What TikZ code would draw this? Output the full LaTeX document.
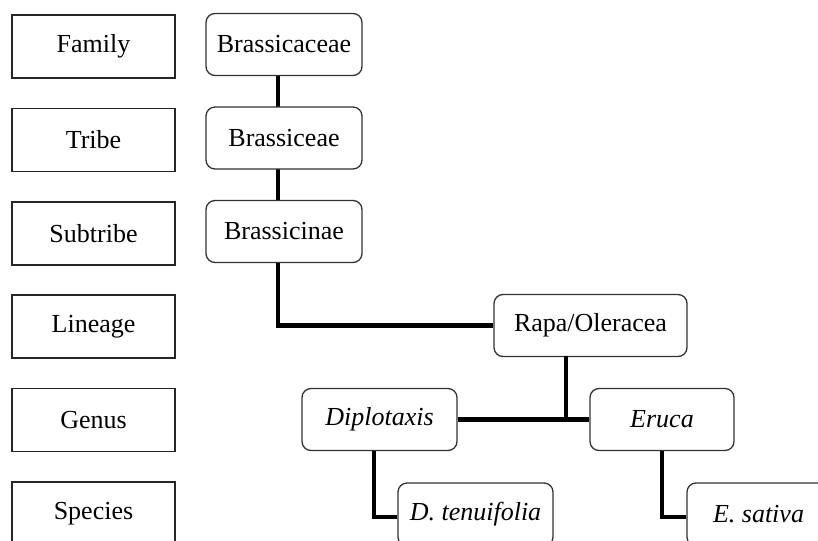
\documentclass[tikz,border=0pt]{standalone}
\usepackage{fontspec}
\setmainfont{Liberation Serif}
\tikzset{
  rankbox/.style={draw=black!85, line width=1.5pt, rectangle, inner sep=0pt,
    minimum width=163pt, minimum height=63pt, font=\fontsize{26}{30}\selectfont},
  taxbox/.style={draw=black!80, line width=1.3pt, rectangle, rounded corners=9pt, inner sep=0pt,
    minimum height=62pt, font=\fontsize{26}{30}\selectfont, fill=white},
  link/.style={line width=4.2pt, black}
}
\begin{document}
\begin{tikzpicture}[x=1pt,y=-1pt]
\useasboundingbox (0,0) rectangle (818,540);
\clip (0,0) rectangle (818,540);
% rank column
\node[rankbox] (family) at (93.5,46.5) {Family};
\node[rankbox] (tribe) at (93.5,140) {Tribe};
\node[rankbox] (subtribe) at (93.5,233.5) {Subtribe};
\node[rankbox] (lineage) at (93.5,326.5) {Lineage};
\node[rankbox] (genus) at (93.5,420) {Genus};
\node[rankbox] (species) at (93.5,513.5) {Species};
% connectors (behind boxes)
\coordinate (c1) at (278,76);
\coordinate (c2) at (278,107);
\coordinate (c3) at (278,169);
\coordinate (c4) at (278,200);
\coordinate (c5) at (278,263);
\draw[link] (c1) -- (c2);
\draw[link] (c3) -- (c4);
% taxa
\node[taxbox, minimum width=156pt] (brassicaceae) at (284,44.5) {Brassicaceae};
\node[taxbox, minimum width=156pt] (brassiceae) at (284,138) {Brassiceae};
\node[taxbox, minimum width=156pt] (brassicinae) at (284,231.5) {Brassicinae};
\node[taxbox, minimum width=193pt] (rapa) at (590.5,325.5) {Rapa/Oleracea};
\node[taxbox, minimum width=155pt] (dip) at (379.5,419.5) {\itshape Diplotaxis};
\node[taxbox, minimum width=144pt] (eru) at (662,419.5) {\itshape Eruca};
\node[taxbox, minimum width=155pt, minimum height=63pt] (dten) at (475.5,514.5) {\itshape D. tenuifolia};
\node[taxbox, minimum width=143pt, minimum height=63pt] (esat) at (758.5,514.5) {\itshape E. sativa};
\coordinate (r1) at (566,356);
\coordinate (r2) at (566,420);
\coordinate (d1) at (374,451);
\draw[link] (c5) |- (rapa.west);
\draw[link] (r1) -- (r2);
\draw[link] (dip.east) -- (eru.west);
\draw[link] (d1) |- ([yshift=-2.5pt]dten.west);
\draw[link] (eru.south) |- ([yshift=-2.5pt]esat.west);
\end{tikzpicture}
\end{document}
